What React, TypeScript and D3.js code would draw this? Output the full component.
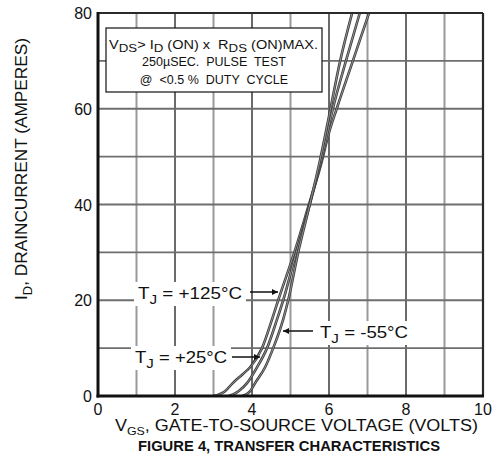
import { useEffect, useRef } from 'react';
import * as d3 from 'd3';

// gate voltage (V) / drain current (A)
const vgsHot = [3.0, 3.3, 3.5, 3.75, 3.95, 4.26, 4.52, 4.68, 5.1, 5.48, 5.78, 6.0, 6.2, 6.62, 7.04];
const idHot = [0, 1.0, 2.7, 4.5, 6, 10, 16, 20, 30, 40, 48, 55, 60, 70, 80];

const vgsRoom = [3.4, 3.65, 3.87, 4.13, 4.39, 4.65, 4.81, 5.15, 5.5, 5.82, 6.1, 6.44, 6.8];
const idRoom = [0, 1.0, 2.7, 6, 10, 16, 20, 30, 40, 50, 60, 70, 80];

const vgsCold = [3.75, 3.95, 4.08, 4.34, 4.55, 4.81, 4.94, 5.2, 5.5, 5.76, 5.99, 6.29, 6.6];
const idCold = [0, 1.0, 2.7, 6, 10, 16, 20, 30, 40, 49, 58, 70, 80];

const xTicks = [0, 2, 4, 6, 8, 10];
const yTicks = [0, 20, 40, 60, 80];

const W = 494;
const H = 467;
const FONT = "'Liberation Sans', Arial, sans-serif";

const App = () => {
  const svgRef = useRef<SVGSVGElement>(null);

  useEffect(() => {
    if (!svgRef.current) return;
    const svg = d3.select(svgRef.current);
    svg.selectAll('*').remove();

    const x = d3.scaleLinear().domain([0, 10]).range([98, 483]);
    const y = d3.scaleLinear().domain([0, 80]).range([396, 13]);

    svg.append('rect').attr('width', W).attr('height', H).attr('fill', '#fff');

    // grid
    const g = svg.append('g');
    g.selectAll('.vg')
      .data(d3.range(1, 10))
      .enter().append('line')
      .attr('x1', d => x(d)).attr('x2', d => x(d))
      .attr('y1', y(80)).attr('y2', y(0))
      .attr('stroke', d => (d % 2 ? '#9a9a9a' : '#6a6a6a'))
      .attr('stroke-width', 2);
    g.selectAll('.hg')
      .data(d3.range(10, 80, 10))
      .enter().append('line')
      .attr('x1', x(0)).attr('x2', x(10))
      .attr('y1', d => y(d)).attr('y2', d => y(d))
      .attr('stroke', '#6e6e6e')
      .attr('stroke-width', 1.8);

    // curves
    svg.append('defs').append('clipPath').attr('id', 'plot-clip')
      .append('rect').attr('x', x(0)).attr('y', y(80)).attr('width', x(10) - x(0)).attr('height', y(0) - y(80));

    const line = d3.line<[number, number]>()
      .x(d => x(d[0]))
      .y(d => y(d[1]))
      .curve(d3.curveMonotoneX);

    const series: [number[], number[]][] = [[vgsHot, idHot], [vgsRoom, idRoom], [vgsCold, idCold]];
    const cg = svg.append('g').attr('clip-path', 'url(#plot-clip)');
    series.forEach(([vs, is]) => {
      const pts = vs.map((v, i) => [v, is[i]] as [number, number]);
      cg.append('path').datum(pts)
        .attr('fill', 'none').attr('stroke', '#3c3c3c').attr('stroke-width', 2.6)
        .attr('d', line);
      cg.append('path').datum(pts)
        .attr('fill', 'none').attr('stroke', '#a8a8a8').attr('stroke-width', 0.8)
        .attr('d', line);
    });

    // frame
    svg.append('line').attr('x1', x(0)).attr('x2', x(10)).attr('y1', y(80)).attr('y2', y(80))
      .attr('stroke', '#2a2a2a').attr('stroke-width', 2.2);
    svg.append('line').attr('x1', x(10)).attr('x2', x(10)).attr('y1', y(80)).attr('y2', y(0))
      .attr('stroke', '#2a2a2a').attr('stroke-width', 2.2);
    svg.append('line').attr('x1', x(0)).attr('x2', x(0)).attr('y1', y(80) - 1).attr('y2', y(0) + 1.5)
      .attr('stroke', '#111').attr('stroke-width', 3);
    svg.append('line').attr('x1', x(0) - 1.5).attr('x2', x(10) + 1).attr('y1', y(0)).attr('y2', y(0))
      .attr('stroke', '#111').attr('stroke-width', 3);

    // tick labels
    svg.selectAll('.xt')
      .data(xTicks)
      .enter().append('text')
      .attr('x', d => x(d)).attr('y', 415)
      .attr('text-anchor', 'middle')
      .attr('font-family', FONT).attr('font-size', 16).attr('fill', '#111')
      .text(d => d);
    svg.selectAll('.yt')
      .data(yTicks)
      .enter().append('text')
      .attr('x', 92).attr('y', d => y(d) + 6)
      .attr('text-anchor', 'end')
      .attr('font-family', FONT).attr('font-size', 16).attr('fill', '#111')
      .text(d => d);

    // x axis title
    const xt = svg.append('text')
      .attr('x', 115).attr('y', 431)
      .attr('font-family', FONT).attr('font-size', 16).attr('fill', '#111')
      .attr('textLength', 363).attr('lengthAdjust', 'spacingAndGlyphs');
    xt.append('tspan').text('V');
    xt.append('tspan').attr('dy', 3.5).attr('font-size', 11).text('GS');
    xt.append('tspan').attr('dy', -3.5).text(', GATE-TO-SOURCE VOLTAGE (VOLTS)');

    // figure title
    svg.append('text')
      .attr('x', 138).attr('y', 451)
      .attr('font-family', FONT).attr('font-size', 15).attr('font-weight', 'bold').attr('fill', '#111')
      .attr('textLength', 302).attr('lengthAdjust', 'spacingAndGlyphs')
      .text('FIGURE 4, TRANSFER CHARACTERISTICS');

    // y axis title
    const yt = svg.append('text')
      .attr('transform', 'translate(27,300) rotate(-90)')
      .attr('font-family', FONT).attr('font-size', 16).attr('fill', '#111')
      .attr('textLength', 262).attr('lengthAdjust', 'spacingAndGlyphs');
    yt.append('tspan').text('I');
    yt.append('tspan').attr('dy', 5).attr('font-size', 12).text('D');
    yt.append('tspan').attr('dy', -5).text(', DRAINCURRENT (AMPERES)');

    // condition box
    svg.append('rect').attr('x', 106).attr('y', 28).attr('width', 216).attr('height', 64)
      .attr('fill', '#fff').attr('stroke', '#111').attr('stroke-width', 1.2);
    const l1 = svg.append('text').attr('x', 109).attr('y', 49)
      .attr('font-family', FONT).attr('font-size', 12).attr('fill', '#111')
      .attr('xml:space', 'preserve')
      .attr('textLength', 209).attr('lengthAdjust', 'spacingAndGlyphs');
    l1.append('tspan').text('V');
    l1.append('tspan').attr('dy', 3).attr('font-size', 11).text('DS');
    l1.append('tspan').attr('dy', -3).text('> I');
    l1.append('tspan').attr('dy', 3).attr('font-size', 11).text('D');
    l1.append('tspan').attr('dy', -3).text(' (ON) x  R');
    l1.append('tspan').attr('dy', 3).attr('font-size', 11).text('DS');
    l1.append('tspan').attr('dy', -3).text(' (ON)MAX.');
    svg.append('text').attr('x', 214).attr('y', 66).attr('text-anchor', 'middle')
      .attr('font-family', FONT).attr('font-size', 12.5).attr('fill', '#111')
      .attr('xml:space', 'preserve')
      .text('250\u00b5SEC.  PULSE  TEST');
    svg.append('text').attr('x', 214).attr('y', 84).attr('text-anchor', 'middle')
      .attr('font-family', FONT).attr('font-size', 12.5).attr('fill', '#111')
      .attr('xml:space', 'preserve')
      .text('@  <0.5 %  DUTY  CYCLE');

    // annotations
    const defs = svg.select('defs');
    defs.append('marker').attr('id', 'arr').attr('viewBox', '0 0 10 10')
      .attr('refX', 10).attr('refY', 5).attr('markerWidth', 9).attr('markerHeight', 6)
      .attr('markerUnits', 'userSpaceOnUse').attr('orient', 'auto')
      .append('path').attr('d', 'M0,0 L10,5 L0,10 Z').attr('fill', '#111');

    const notes = [
      { label: '+125°C', tx: 138, ty: 299, w: 104, ax1: 250, ax2: 278, ay: 292 },
      { label: '-55°C', tx: 320, ty: 338, w: 88, ax1: 313, ax2: 283, ay: 331 },
      { label: '+25°C', tx: 135, ty: 363, w: 92, ax1: 232, ax2: 260, ay: 357 },
    ];
    notes.forEach(n => {
      svg.append('rect').attr('x', n.tx - 4).attr('y', n.ty - 17).attr('width', n.w + 8).attr('height', 24)
        .attr('fill', '#fff');
      const t = svg.append('text').attr('x', n.tx).attr('y', n.ty)
        .attr('font-family', FONT).attr('font-size', 16).attr('fill', '#111')
        .attr('textLength', n.w).attr('lengthAdjust', 'spacingAndGlyphs');
      t.append('tspan').text('T');
      t.append('tspan').attr('dy', 5).attr('font-size', 13).text('J');
      t.append('tspan').attr('dy', -5).text(' = ' + n.label);
      svg.append('line').attr('x1', n.ax1).attr('x2', n.ax2).attr('y1', n.ay).attr('y2', n.ay)
        .attr('stroke', '#111').attr('stroke-width', 1.5).attr('marker-end', 'url(#arr)');
    });
  }, []);

  return (
    <svg ref={svgRef} width={W} height={H}
      style={{ position: 'absolute', left: 0, top: 0, display: 'block' }} />
  );
};

export default App;
